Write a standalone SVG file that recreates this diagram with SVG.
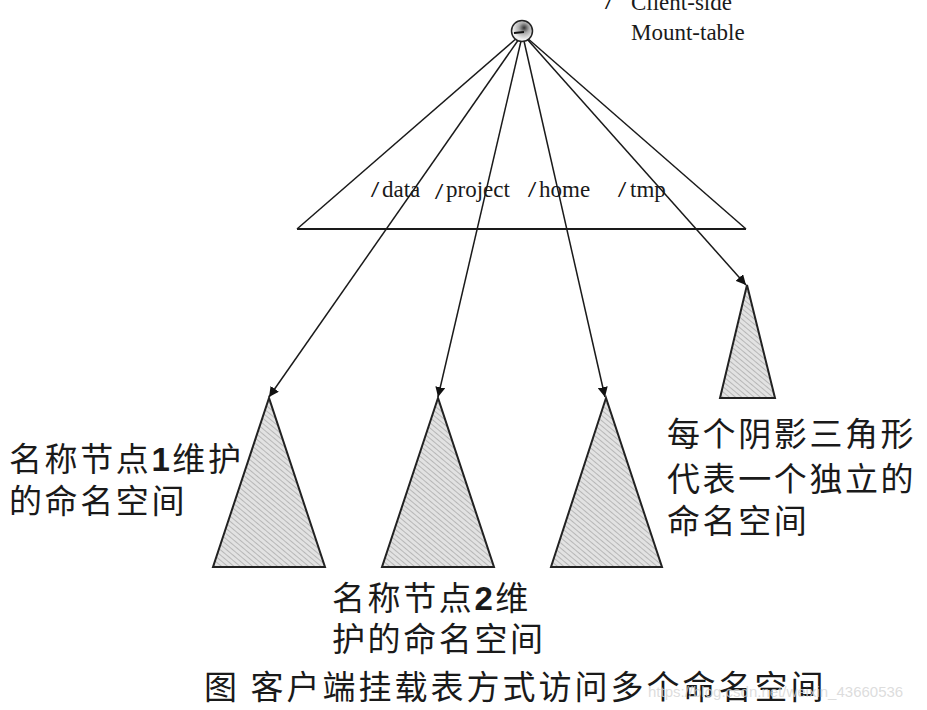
<svg xmlns="http://www.w3.org/2000/svg" width="927" height="710" viewBox="0 0 927 710">
<defs>
<style>
.ln{stroke:#1a1a1a;stroke-width:1.5;fill:none}
.tri{fill:url(#hatch);stroke:#222;stroke-width:2}
.en{font-family:"Liberation Serif",serif;font-size:23px;fill:#1a1a1a}
.sl{font-family:"Liberation Sans",sans-serif;font-size:20px;fill:#111;font-style:italic}
.zh{font-family:"Noto Sans CJK SC",sans-serif;font-size:33px;letter-spacing:2.6px;fill:#1a1a1a}
.cap{font-family:"Noto Sans CJK SC",sans-serif;font-size:33px;letter-spacing:3px;fill:#1a1a1a}
.wm{font-family:"Liberation Sans",sans-serif;font-size:15px;fill:#d4d4d4;fill-opacity:0.8}
</style>
<pattern id="hatch" patternUnits="userSpaceOnUse" width="4" height="4" patternTransform="rotate(-50)">
<rect width="4" height="4" fill="#e2e2e2"/>
<line x1="0" y1="0" x2="0" y2="4" stroke="#9a9a9a" stroke-width="1.2"/>
</pattern>
<radialGradient id="ball" cx="0.6" cy="0.35" r="0.7">
<stop offset="0" stop-color="#333"/>
<stop offset="0.35" stop-color="#aaa"/>
<stop offset="0.8" stop-color="#f4f4f4"/>
<stop offset="1" stop-color="#ddd"/>
</radialGradient>
<marker id="arr" viewBox="0 0 10 10" refX="10" refY="5" markerWidth="10" markerHeight="10" markerUnits="userSpaceOnUse" orient="auto">
<path d="M0,0 L10,5 L0,10 Z" fill="#111"/>
</marker>
</defs>
<rect width="927" height="710" fill="#fff"/>
<g id="connectors">
<line class="ln" x1="518" y1="37" x2="297" y2="229"/>
<line class="ln" x1="526" y1="37" x2="746" y2="229"/>
<line class="ln" x1="297" y1="229" x2="746" y2="229" style="stroke-width:2"/>
<line class="ln" x1="519" y1="39" x2="269" y2="397" marker-end="url(#arr)"/>
<line class="ln" x1="521" y1="41" x2="438" y2="397" marker-end="url(#arr)"/>
<line class="ln" x1="524" y1="41" x2="605" y2="397" marker-end="url(#arr)"/>
<line class="ln" x1="527" y1="39" x2="746" y2="285" marker-end="url(#arr)"/>
</g>
<g id="mount-table">
<circle cx="522" cy="31" r="10.5" fill="url(#ball)" stroke="#222" stroke-width="1.5"/>
<path d="M514,33 L524,32" stroke="#111" stroke-width="2"/>
<text class="sl" x="606" y="9">/</text>
<text class="en" x="631" y="10">Client-side</text>
<text class="en" x="631" y="40">Mount-table</text>
</g>
<g id="labels">
<text class="sl" x="372" y="197">/</text>
<text class="en" x="382" y="197">data</text>
<text class="sl" x="436" y="199">/</text>
<text class="en" x="446" y="197">project</text>
<text class="sl" x="529" y="197">/</text>
<text class="en" x="539" y="197">home</text>
<text class="sl" x="619" y="197">/</text>
<text class="en" x="630" y="197">tmp</text>
</g>
<g id="ns1">
<polygon class="tri" points="269,398 213,567 325,567"/>
<text class="zh" x="9" y="471">名称节点<tspan font-weight="bold" font-family="Liberation Sans,sans-serif">1</tspan>维护</text>
<text class="zh" x="9" y="513">的命名空间</text>
</g>
<g id="ns2">
<polygon class="tri" points="438,398 382,567 494,567"/>
<text class="zh" x="332" y="610">名称节点<tspan font-weight="bold" font-family="Liberation Sans,sans-serif">2</tspan>维</text>
<text class="zh" x="332" y="651">护的命名空间</text>
</g>
<g id="ns3">
<polygon class="tri" points="606,398 551,567 662,567"/>
</g>
<g id="ns4">
<polygon class="tri" points="747,285 720,398 775,398"/>
<text class="zh" x="667" y="446">每个阴影三角形</text>
<text class="zh" x="667" y="491">代表一个独立的</text>
<text class="zh" x="667" y="533">命名空间</text>
</g>
<g id="caption">
<text class="cap" x="204" y="699">图 客户端挂载表方式访问多个命名空间</text>
<text class="wm" x="648" y="697">https://blog.csdn.net/weixin_43660536</text>
</g>
</svg>
